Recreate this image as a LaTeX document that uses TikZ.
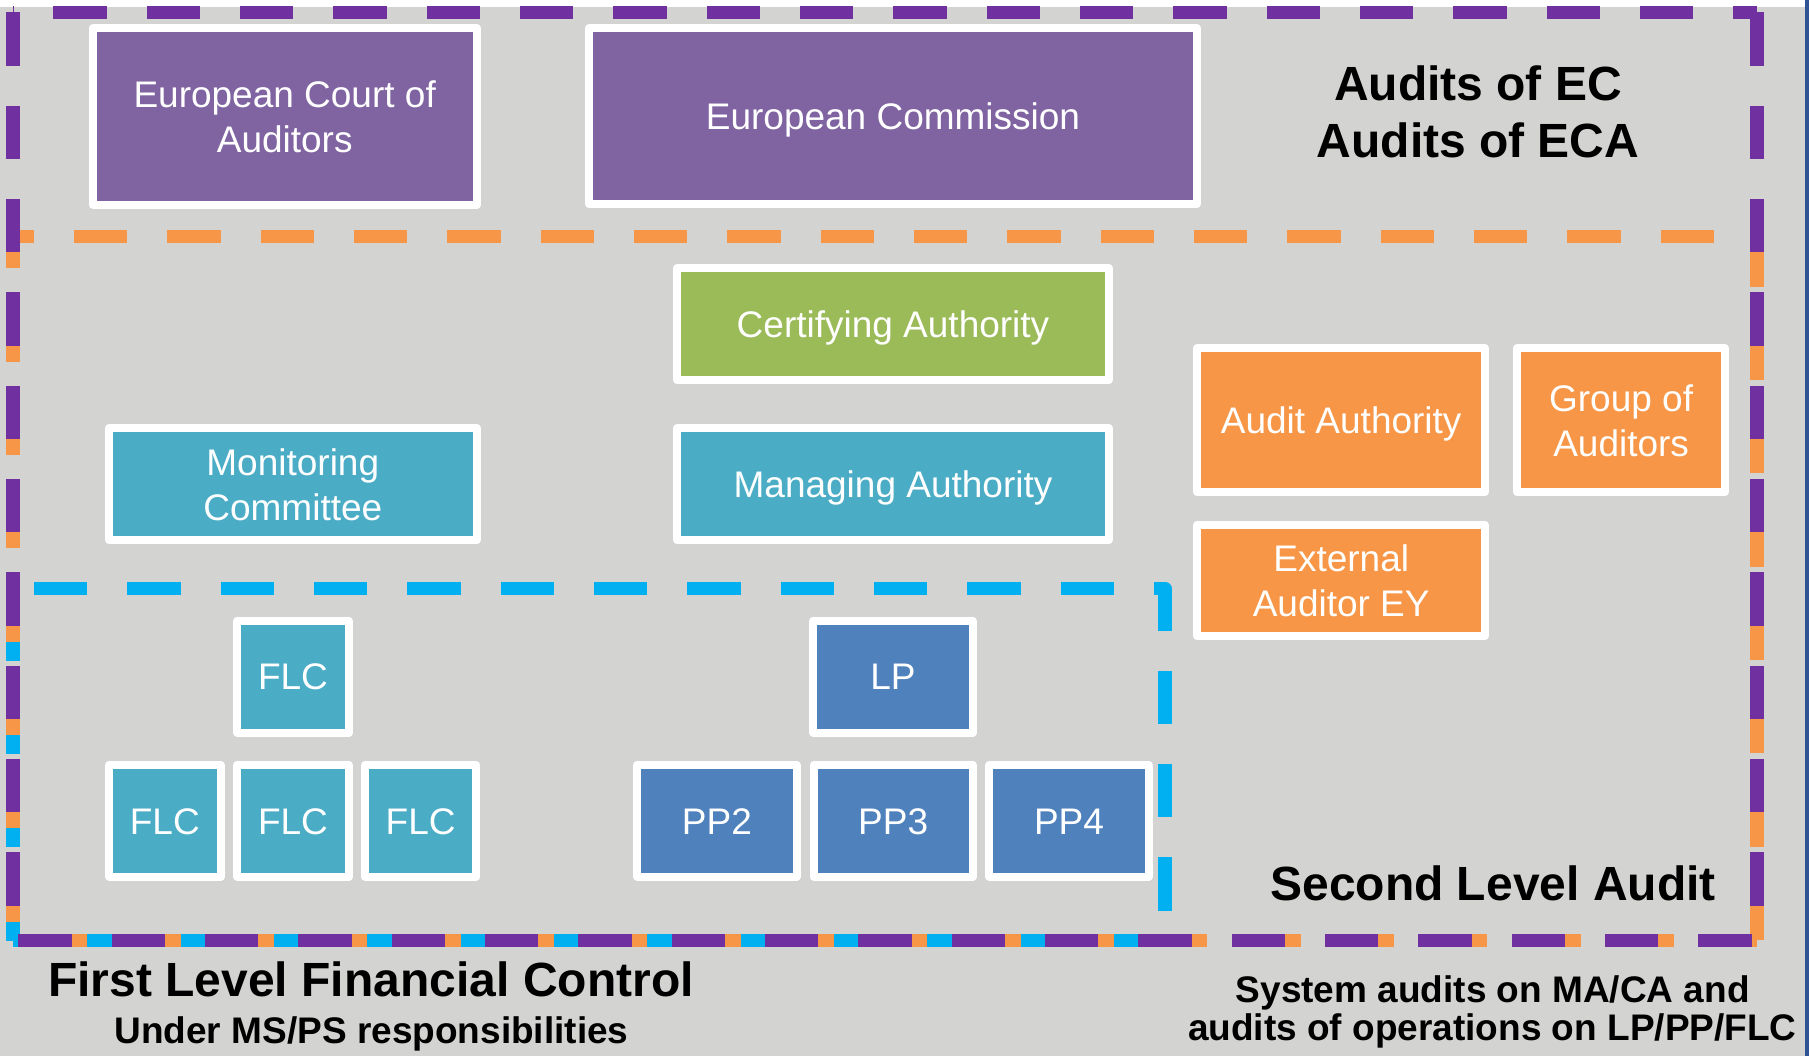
\documentclass[tikz,border=0pt]{standalone}
\usepackage{fontspec}
\setmainfont{Liberation Sans}
\definecolor{bggray}{RGB}{211,211,209}
\definecolor{edgeblue}{RGB}{47,84,150}
\definecolor{dpurple}{RGB}{112,48,160}
\definecolor{dorange}{RGB}{247,150,70}
\definecolor{dblue}{RGB}{0,176,240}
\definecolor{fpurple}{RGB}{128,100,162}
\definecolor{fgreen}{RGB}{155,187,89}
\definecolor{fteal}{RGB}{75,172,198}
\definecolor{fblue}{RGB}{79,129,189}
\definecolor{forange}{RGB}{247,150,70}
\tikzset{
  dline/.style={line width=13.33pt, line cap=butt, line join=round, dash pattern=on 53.33pt off 40pt},
  box/.style={draw=white, line width=8pt, line join=round, inner sep=0pt, text=white,
    align=center, font=\fontsize{37}{45}\selectfont, text height=26.5pt, text depth=0pt},
  boxtwo/.style={box, text height=71.5pt, text depth=0pt},
  lbl/.style={inner sep=0pt, anchor=base, text=black},
}
\begin{document}
\begin{tikzpicture}[x=1pt,y=-1pt]
\useasboundingbox (0,0) rectangle (1809,1056);
% background
\fill[white] (0,0) rectangle (1809,1056);
\fill[bggray] (0,7) rectangle (1805,1056);
\fill[edgeblue] (1805,0) rectangle (1809,1056);

% blue dashed frame (First Level)
\draw[dline, dblue, dash phase=72.33pt] (13,588.5) -- (1165,588.5) -- (1165,940.5);
\draw[dline, dblue, dash phase=0pt] (13,940.5) -- (13,588.5);
\draw[dline, dblue, dash phase=31.7pt] (13,940.5) -- (1165,940.5);

% orange dashed frame (Second Level)
\draw[dline, dorange, dash phase=32.33pt] (13,236.5) -- (1757,236.5);
\draw[dline, dorange, dash phase=21.5pt] (13,236.5) -- (13,940.5);
\draw[dline, dorange, dash phase=3.2pt] (1757,236.5) -- (1757,940.5);
\draw[dline, dorange, dash phase=72.33pt] (13,940.5) -- (1757,940.5);

% purple dashed frame (EC / ECA)
\draw[dline, dpurple, dash phase=0pt] (13,12.5) -- (13,940.5);
\draw[dline, dpurple, dash phase=0pt] (1757,12.5) -- (1757,940.5);
\draw[dline, dpurple, dash phase=53pt] (13,12.5) -- (1757,12.5);
\draw[dline, dpurple, dash phase=88pt] (13,940.5) -- (1757,940.5);

% boxes
\node[boxtwo, fill=fpurple, minimum width=384pt, minimum height=176.4pt] (eca) at (284.7,116.5) {European Court of\\Auditors};
\node[box, fill=fpurple, minimum width=607.3pt, minimum height=176pt] (ec) at (893,116.3) {European Commission};
\node[box, fill=fgreen, minimum width=431.4pt, minimum height=112pt] (ca) at (893,324.3) {Certifying Authority};
\node[box, fill=fteal, minimum width=431.4pt, minimum height=112pt] (ma) at (893,484.3) {Managing Authority};
\node[boxtwo, fill=fteal, minimum width=367.8pt, minimum height=112pt] (mc) at (292.8,484.3) {Monitoring\\Committee};
\node[box, fill=forange, minimum width=287.6pt, minimum height=144pt] (aa) at (1341.2,420.3) {Audit Authority};
\node[boxtwo, fill=forange, minimum width=207.6pt, minimum height=144pt] (ga) at (1621.1,420.3) {Group of\\Auditors};
\node[boxtwo, fill=forange, minimum width=287.6pt, minimum height=111.6pt] (ea) at (1341.2,580.5) {External\\Auditor EY};

\node[box, fill=fteal, minimum width=111.7pt, minimum height=112pt] (flc0) at (293,676.7) {FLC};
\node[box, fill=fteal, minimum width=111.7pt, minimum height=111.7pt] (flc1) at (164.8,820.8) {FLC};
\node[box, fill=fteal, minimum width=111.7pt, minimum height=111.7pt] (flc2) at (293,820.8) {FLC};
\node[box, fill=fteal, minimum width=111.7pt, minimum height=111.7pt] (flc3) at (420.6,820.8) {FLC};

\node[box, fill=fblue, minimum width=159.4pt, minimum height=112pt] (lp) at (893,676.7) {LP};
\node[box, fill=fblue, minimum width=159.2pt, minimum height=111.7pt] (pp2) at (716.9,820.8) {PP2};
\node[box, fill=fblue, minimum width=159.2pt, minimum height=111.7pt] (pp3) at (893.2,820.8) {PP3};
\node[box, fill=fblue, minimum width=159.2pt, minimum height=111.7pt] (pp4) at (1069,820.8) {PP4};

% labels
\node[lbl, font=\bfseries\fontsize{48}{56}\selectfont] (l1) at (1478,101) {Audits of EC};
\node[lbl, font=\bfseries\fontsize{48}{56}\selectfont] (l2) at (1478,157.7) {Audits of ECA};
\node[lbl, font=\bfseries\fontsize{48}{56}\selectfont] (l3) at (1493,900) {Second Level Audit};
\node[lbl, font=\bfseries\fontsize{48}{56}\selectfont] (l4) at (371,996) {First Level Financial Control};
\node[lbl, font=\bfseries\fontsize{37}{44}\selectfont] (l5) at (371.5,1043.3) {Under MS/PS responsibilities};
\node[lbl, font=\bfseries\fontsize{37}{40}\selectfont] (l6) at (1492.8,1002.3) {System audits on MA/CA and};
\node[lbl, font=\bfseries\fontsize{37}{40}\selectfont] (l7) at (1492.3,1040.7) {audits of operations on LP/PP/FLC};
\end{tikzpicture}
\end{document}
